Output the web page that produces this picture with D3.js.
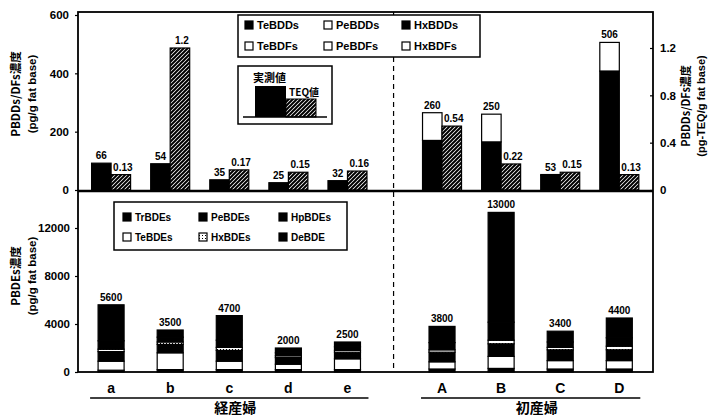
<!DOCTYPE html>
<html>
<head>
<meta charset="utf-8">
<script src="https://cdn.jsdelivr.net/npm/d3@7"></script>
<style>
  body { margin: 0; background: #fff; }
  text { font-family: "Liberation Sans", Arial, sans-serif; font-weight: bold; fill: #000; }
  .jp { font-family: "Noto Sans CJK JP", sans-serif; font-weight: bold; }
</style>
</head>
<body>
<div id="chart"></div>
<script>
// categories and groups
const cats = ["a", "b", "c", "d", "e", "A", "B", "C", "D"];
const groupOf = [0, 0, 0, 0, 0, 1, 1, 1, 1];
const groupNames = ["経産婦", "初産婦"];

// top panel: PBDDs/DFs measured (pg/g fat base)
const teBDDs = [92, 90, 35, 25, 32, 170, 165, 50, 408];
const peBDDs = [0, 0, 0, 0, 0, 95, 95, 3, 98];
const hxBDDs = [0, 0, 0, 0, 0, 0, 0, 0, 0];
const teBDFs = [0, 0, 0, 0, 0, 0, 0, 0, 0];
const peBDFs = [0, 0, 0, 0, 0, 0, 0, 0, 0];
const hxBDFs = [0, 0, 0, 0, 0, 0, 0, 0, 0];
const pbddLabels = ["66", "54", "35", "25", "32", "260", "250", "53", "506"];
// TEQ (pg-TEQ/g fat base)
const teq = [0.13, 1.2, 0.17, 0.15, 0.16, 0.54, 0.22, 0.15, 0.13];

// bottom panel: PBDEs (pg/g fat base)
const trBDEs = [150, 200, 200, 200, 200, 250, 300, 250, 250];
const teBDEs = [750, 1400, 700, 450, 900, 600, 1000, 700, 700];
const peBDEs = [800, 700, 900, 550, 550, 800, 1050, 900, 900];
const hxBDEs = [200, 200, 250, 150, 150, 200, 300, 200, 300];
const hpBDEs = [700, 400, 600, 250, 300, 600, 1500, 450, 700];
const deBDE = [3000, 600, 2050, 400, 400, 1350, 9150, 900, 1650];
const pbdeLabels = ["5600", "3500", "4700", "2000", "2500", "3800", "13000", "3400", "4400"];

const topTicks = [0, 200, 400, 600];
const teqTicks = [0, 0.4, 0.8, 1.2];
const botTicks = [0, 4000, 8000, 12000];

const W = 714, H = 419;
const left = 78, right = 653;
const topY0 = 12, topY1 = 190, botY1 = 372;

const svg = d3.select("#chart").append("svg")
    .attr("width", W).attr("height", H);

const defs = svg.append("defs");
const hatch = defs.append("pattern").attr("id", "hatch")
    .attr("patternUnits", "userSpaceOnUse").attr("width", 4).attr("height", 4);
hatch.append("rect").attr("width", 4).attr("height", 4).attr("fill", "#fff");
hatch.append("path").attr("d", "M-1,1 l2,-2 M0,4 l4,-4 M3,5 l2,-2")
    .attr("stroke", "#000").attr("stroke-width", 2);
const dots = defs.append("pattern").attr("id", "dots")
    .attr("patternUnits", "userSpaceOnUse").attr("width", 3).attr("height", 3);
dots.append("rect").attr("width", 3).attr("height", 3).attr("fill", "#fff");
dots.append("rect").attr("width", 1).attr("height", 1).attr("x", 1).attr("y", 1).attr("fill", "#000");

// position index, second group shifted by a gap
const pos = cats.map((c, i) => i + (groupOf[i] ? 0.6 : 0));
const x = d3.scaleLinear().domain([-0.56, 9.17]).range([left, right]);
const slot = x(1) - x(0);

const yTop = d3.scaleLinear().domain([0, 600]).range([topY1, 15]);
const yTeq = d3.scaleLinear().domain([0, 1.2]).range([topY1, 48]);
const yBot = d3.scaleLinear().domain([0, 12000]).range([botY1, 228]);

// ---------- top panel ----------
const topKeys = ["TeBDDs", "PeBDDs", "HxBDDs", "TeBDFs", "PeBDFs", "HxBDFs"];
const topFill = { TeBDDs: "#000", PeBDDs: "#fff", HxBDDs: "#000", TeBDFs: "#fff", PeBDFs: "#fff", HxBDFs: "#fff" };
const topRows = cats.map((c, i) => ({
  cat: c, i: i,
  TeBDDs: teBDDs[i], PeBDDs: peBDDs[i], HxBDDs: hxBDDs[i],
  TeBDFs: teBDFs[i], PeBDFs: peBDFs[i], HxBDFs: hxBDFs[i]
}));
const topStack = d3.stack().keys(topKeys)(topRows);
const bwTop = slot * 0.33;

svg.append("g").selectAll("g")
  .data(topStack).join("g")
    .attr("fill", d => topFill[d.key])
  .selectAll("rect")
  .data(d => d.filter(s => s[1] > s[0])).join("rect")
    .attr("x", d => x(pos[d.data.i]) - bwTop)
    .attr("width", bwTop)
    .attr("y", d => yTop(d[1]))
    .attr("height", d => yTop(d[0]) - yTop(d[1]))
    .attr("stroke", "#000").attr("stroke-width", 1.2);

svg.append("g").selectAll("rect")
  .data(teq).join("rect")
    .attr("x", (d, i) => x(pos[i]))
    .attr("width", bwTop)
    .attr("y", d => yTeq(d))
    .attr("height", d => yTeq(0) - yTeq(d))
    .attr("fill", "url(#hatch)")
    .attr("stroke", "#000").attr("stroke-width", 1.2);

const topTotals = topRows.map(r => d3.sum(topKeys, k => r[k]));
svg.append("g").selectAll("text")
  .data(pbddLabels).join("text")
    .attr("x", (d, i) => x(pos[i]) - bwTop / 2)
    .attr("y", (d, i) => yTop(topTotals[i]) - 4)
    .attr("text-anchor", "middle")
    .style("font-size", "10px")
    .text(d => d);

svg.append("g").selectAll("text")
  .data(teq).join("text")
    .attr("x", (d, i) => x(pos[i]) + bwTop / 2 + 2)
    .attr("y", d => yTeq(d) - 4)
    .attr("text-anchor", "middle")
    .style("font-size", "10px")
    .text(d => String(d));

// ---------- bottom panel ----------
const botKeys = ["TrBDEs", "TeBDEs", "PeBDEs", "HxBDEs", "HpBDEs", "DeBDE"];
const botFill = { TrBDEs: "#000", TeBDEs: "#fff", PeBDEs: "#000", HxBDEs: "url(#dots)", HpBDEs: "#000", DeBDE: "#000" };
const botRows = cats.map((c, i) => ({
  cat: c, i: i,
  TrBDEs: trBDEs[i], TeBDEs: teBDEs[i], PeBDEs: peBDEs[i],
  HxBDEs: hxBDEs[i], HpBDEs: hpBDEs[i], DeBDE: deBDE[i]
}));
const botStack = d3.stack().keys(botKeys)(botRows);
const bwBot = slot * 0.44;

svg.append("g").selectAll("g")
  .data(botStack).join("g")
    .attr("fill", d => botFill[d.key])
  .selectAll("rect")
  .data(d => d).join("rect")
    .attr("x", d => x(pos[d.data.i]) - bwBot / 2)
    .attr("width", bwBot)
    .attr("y", d => yBot(d[1]))
    .attr("height", d => yBot(d[0]) - yBot(d[1]))
    .attr("stroke", "#000").attr("stroke-width", 1.2);

const botTotals = botRows.map(r => d3.sum(botKeys, k => r[k]));
svg.append("g").selectAll("text")
  .data(pbdeLabels).join("text")
    .attr("x", (d, i) => x(pos[i]))
    .attr("y", (d, i) => yBot(botTotals[i]) - 4)
    .attr("text-anchor", "middle")
    .style("font-size", "10px")
    .text(d => d);

// ---------- frame and axes ----------
const frame = svg.append("g").attr("fill", "none").attr("stroke", "#000");
frame.append("rect").attr("x", left).attr("y", topY0)
    .attr("width", right - left).attr("height", botY1 - topY0).attr("stroke-width", 1.8);
frame.append("line").attr("x1", left).attr("x2", right)
    .attr("y1", topY1 + 1).attr("y2", topY1 + 1).attr("stroke-width", 2.5);
frame.append("line")
    .attr("x1", x(4.78)).attr("x2", x(4.78))
    .attr("y1", topY0).attr("y2", botY1)
    .attr("stroke-width", 1.2).attr("stroke-dasharray", "5,4");

function styleAxis(g) {
  g.select(".domain").remove();
  g.selectAll("line").attr("stroke", "#000").attr("stroke-width", 1.2);
  g.selectAll("text").style("font-size", "11.5px").style("font-weight", "bold");
}

svg.append("g").attr("transform", `translate(${left},0)`)
  .call(d3.axisLeft(yTop).tickValues(topTicks).tickSize(3).tickPadding(6))
  .call(styleAxis);
svg.append("g").attr("transform", `translate(${right},0)`)
  .call(d3.axisRight(yTeq).tickValues(teqTicks).tickSize(-3).tickPadding(7).tickFormat(d => String(d)))
  .call(styleAxis);
svg.append("g").attr("transform", `translate(${left},0)`)
  .call(d3.axisLeft(yBot).tickValues(botTicks).tickSize(3).tickPadding(5).tickFormat(d3.format("d")))
  .call(styleAxis);

// category labels
svg.append("g").selectAll("text")
  .data(cats).join("text")
    .attr("x", (d, i) => x(pos[i]))
    .attr("y", 393)
    .attr("text-anchor", "middle")
    .style("font-size", "14px")
    .text(d => d);

// group underline and names
groupNames.forEach((name, gi) => {
  const idx = pos.filter((p, i) => groupOf[i] === gi);
  const x0 = x(d3.min(idx)) - 21, x1 = x(d3.max(idx)) + 21;
  svg.append("line").attr("x1", x0).attr("x2", x1)
      .attr("y1", 398).attr("y2", 398)
      .attr("stroke", "#000").attr("stroke-width", 1.5);
  svg.append("text").attr("class", "jp")
      .attr("x", (x0 + x1) / 2 + 6).attr("y", 413)
      .attr("text-anchor", "middle")
      .style("font-size", "14px")
      .text(name);
});

// y axis titles
function yTitle(xp, yp, lines, size) {
  lines.forEach((t, k) => {
    svg.append("text").attr("class", k === 0 ? "jp" : null)
        .attr("transform", `translate(${xp[k]},${yp}) rotate(-90)`)
        .attr("text-anchor", "middle")
        .style("font-size", size)
        .text(t);
  });
}
yTitle([20, 36], 94, ["PBDDs/DFs濃度", "(pg/g fat base)"], "11.5px");
yTitle([20, 36], 276, ["PBDEs濃度", "(pg/g fat base)"], "11.5px");
yTitle([690, 705], 106, ["PBDDs/DFs濃度", "(pg-TEQ/g fat base)"], "11px");

// top legend
const lg1 = svg.append("g");
lg1.append("rect").attr("x", 238).attr("y", 15).attr("width", 242).attr("height", 42)
    .attr("fill", "#fff").attr("stroke", "#000").attr("stroke-width", 1.5);
const lg1Items = [["TeBDDs", 0, 0], ["PeBDDs", 1, 0], ["HxBDDs", 2, 0],
                  ["TeBDFs", 0, 1], ["PeBDFs", 1, 1], ["HxBDFs", 2, 1]];
const lg1Col = [245, 324, 402];
lg1Items.forEach(([k, c, r]) => {
  const yy = 25 + r * 21;
  lg1.append("rect").attr("x", lg1Col[c]).attr("y", yy - 4).attr("width", 8).attr("height", 8)
      .attr("fill", topFill[k]).attr("stroke", "#000").attr("stroke-width", 1.2);
  lg1.append("text").attr("x", lg1Col[c] + 12).attr("y", yy + 4)
      .style("font-size", "11px").text(k);
});

// inset legend: measured vs TEQ
const lg2 = svg.append("g");
lg2.append("rect").attr("x", 238).attr("y", 66).attr("width", 94).attr("height", 58)
    .attr("fill", "#fff").attr("stroke", "#000").attr("stroke-width", 1.5);
lg2.append("rect").attr("x", 255).attr("y", 86).attr("width", 31).attr("height", 31)
    .attr("fill", "#000");
lg2.append("rect").attr("x", 286).attr("y", 99).attr("width", 30).attr("height", 18)
    .attr("fill", "url(#hatch)").attr("stroke", "#000").attr("stroke-width", 1);
lg2.append("line").attr("x1", 243).attr("x2", 327).attr("y1", 117).attr("y2", 117)
    .attr("stroke", "#000").attr("stroke-width", 1.5);
lg2.append("text").attr("class", "jp").attr("x", 253).attr("y", 82)
    .style("font-size", "11px").text("実測値");
lg2.append("text").attr("class", "jp").attr("x", 289).attr("y", 96)
    .style("font-size", "10px").text("TEQ値");

// bottom legend
const lg3 = svg.append("g");
lg3.append("rect").attr("x", 114).attr("y", 202).attr("width", 233).attr("height", 48)
    .attr("fill", "#fff").attr("stroke", "#000").attr("stroke-width", 1.5);
const lg3Items = [["TrBDEs", 0, 0], ["PeBDEs", 1, 0], ["HpBDEs", 2, 0],
                  ["TeBDEs", 0, 1], ["HxBDEs", 1, 1], ["DeBDE", 2, 1]];
const lg3Col = [123, 199, 279];
lg3Items.forEach(([k, c, r]) => {
  const yy = 217 + r * 20;
  lg3.append("rect").attr("x", lg3Col[c]).attr("y", yy - 4).attr("width", 8).attr("height", 8)
      .attr("fill", botFill[k]).attr("stroke", "#000").attr("stroke-width", 1.2);
  lg3.append("text").attr("x", lg3Col[c] + 12).attr("y", yy + 4)
      .style("font-size", "10px").text(k);
});
</script>
</body>
</html>
